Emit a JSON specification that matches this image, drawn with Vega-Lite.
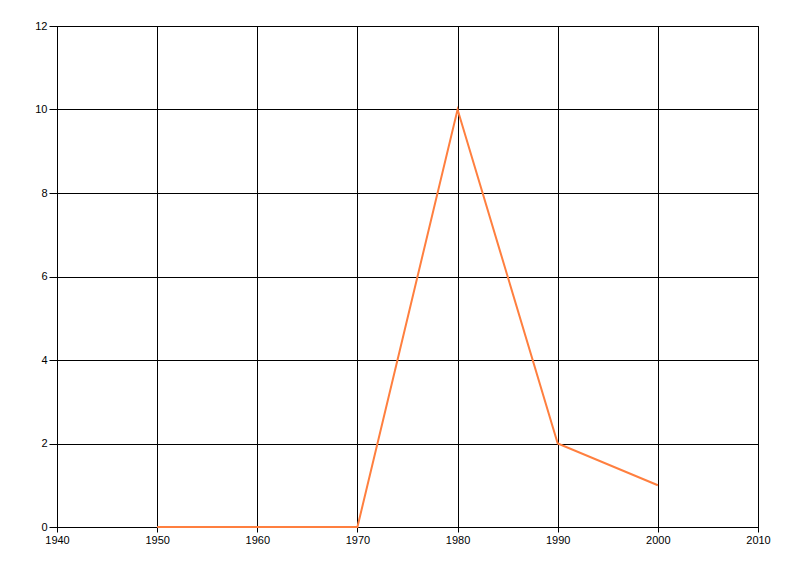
{
  "$schema": "https://vega.github.io/schema/vega-lite/v6.json",
  "width": 701,
  "height": 501,
  "autosize": {"type": "none"},
  "padding": {"left": 57, "top": 26, "right": 42, "bottom": 49},
  "background": "white",
  "config": {
    "view": {"stroke": "black", "strokeWidth": 1},
    "axis": {
      "gridColor": "black",
      "gridOpacity": 1,
      "gridWidth": 1,
      "domainColor": "black",
      "tickColor": "black",
      "labelColor": "black",
      "labelFont": "Liberation Sans",
      "labelFontSize": 11,
      "labelFlush": false,
      "labelOverlap": false,
      "title": null
    }
  },
  "data": {
    "values": [
      {"year": 1950, "value": 0},
      {"year": 1960, "value": 0},
      {"year": 1970, "value": 0},
      {"year": 1980, "value": 10},
      {"year": 1990, "value": 2},
      {"year": 2000, "value": 1}
    ]
  },
  "mark": {"type": "line", "color": "#ff7f3f", "strokeWidth": 2},
  "encoding": {
    "x": {
      "field": "year",
      "type": "quantitative",
      "scale": {"domain": [1940, 2010], "nice": false, "zero": false},
      "axis": {"values": [1940, 1950, 1960, 1970, 1980, 1990, 2000, 2010], "format": "d", "tickSize": 5, "labelPadding": 2, "title": null}
    },
    "y": {
      "field": "value",
      "type": "quantitative",
      "scale": {"domain": [0, 12], "nice": false},
      "axis": {"values": [0, 2, 4, 6, 8, 10, 12], "tickSize": 8, "labelPadding": 2, "title": null}
    }
  }
}
